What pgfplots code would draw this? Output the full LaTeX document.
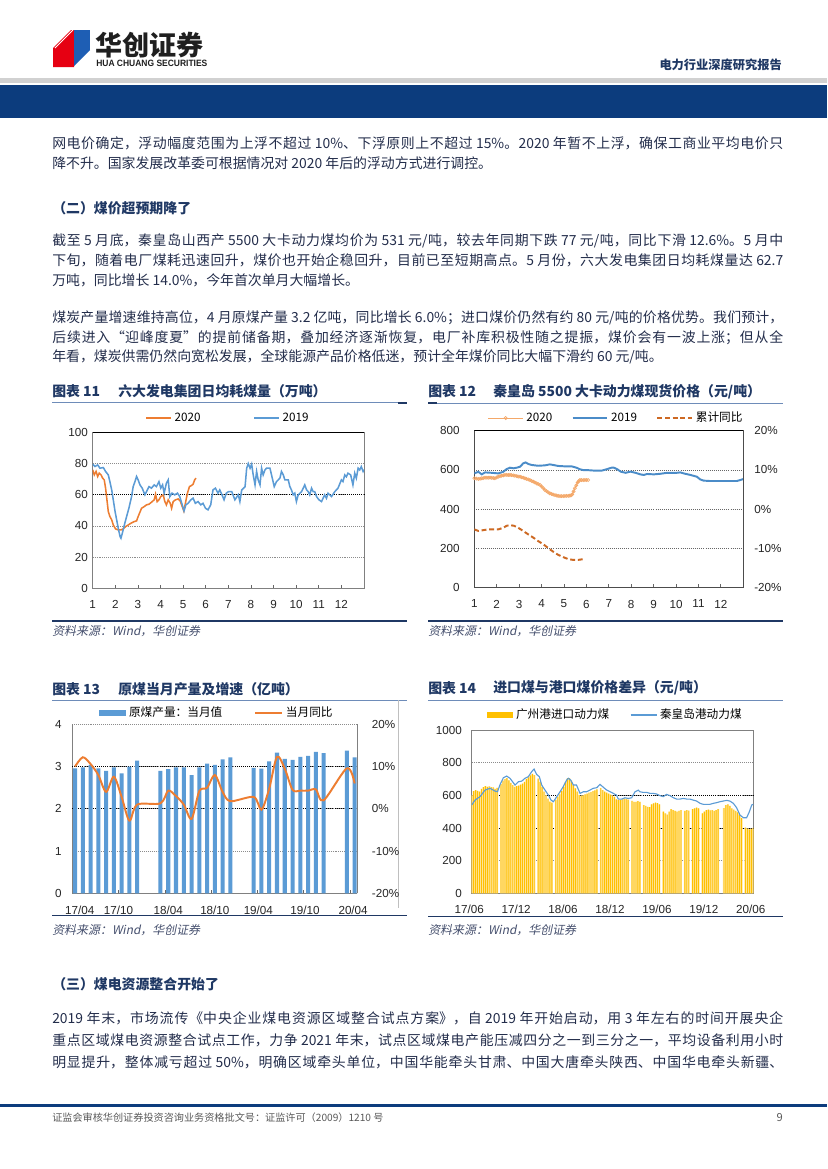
\documentclass[border=0pt]{standalone}
\usepackage{fontspec}
\usepackage{graphicx}
\usepackage{pgfplots}
\pgfplotsset{compat=1.18}
\usepackage{pgfplotstable}
\setmainfont{Noto Sans CJK SC}
\newfontfamily\chartfont{Liberation Sans}
\newfontfamily\srcfont[FakeSlant=0.2]{Noto Sans CJK SC}
\newfontfamily\latinb{Liberation Sans}
\XeTeXlinebreaklocale "zh"
\XeTeXlinebreakskip=0pt plus 1pt

\definecolor{navy}{RGB}{31,56,100}
\definecolor{band}{RGB}{12,60,125}
\definecolor{bodyc}{RGB}{35,45,75}
\definecolor{srcc}{RGB}{70,80,110}
\definecolor{sblue}{RGB}{91,155,213}
\definecolor{mblue}{RGB}{75,140,200}
\definecolor{sorange}{RGB}{237,125,49}
\definecolor{lorange}{RGB}{244,168,105}
\definecolor{dorange}{RGB}{205,105,35}
\definecolor{ylw}{RGB}{255,192,0}
\definecolor{pylw}{RGB}{255,228,150}
\definecolor{tline}{RGB}{110,140,185}
\definecolor{logored}{RGB}{230,0,18}
\definecolor{logoblue}{RGB}{30,94,180}

\newcommand\jline[1]{\parbox{526.3pt}{\parindent=0pt\parfillskip=0pt\spaceskip=0.22em plus 0.05em\relax #1}}

\pgfplotstableread{
m v
0 600
0.25 625
0.5 632
0.75 628
1 622
1.25 640
1.5 650
1.75 656
2 652
2.25 655
2.5 650
2.75 648
3 640
3.25 645
3.75 668
4 690
4.25 700
4.5 706
4.75 692
5 676
5.25 662
5.5 652
5.75 656
6 660
6.25 666
6.5 672
6.75 682
7 700
7.25 710
7.5 722
7.75 732
8 724
8.5 702
8.75 682
9 652
9.25 622
9.5 600
9.75 580
10 562
10.25 556
10.75 572
11 590
11.25 606
11.5 626
11.75 652
12 682
12.25 706
12.5 706
12.75 690
13 662
13.25 642
13.5 622
13.75 602
14 596
14.25 600
14.5 606
14.75 610
15 616
15.25 620
15.5 626
15.75 630
16 636
16.5 644
16.75 632
17 622
17.25 616
17.5 610
17.75 604
18 598
18.25 590
18.5 576
18.75 570
19 572
19.25 576
19.5 580
19.75 578
20 574
20.5 566
20.75 560
21 560
21.25 565
21.5 560
22 540
22.25 535
22.5 530
22.75 528
23 545
23.25 550
23.5 556
23.75 552
24 545
24.5 500
24.75 490
25 482
25.25 500
25.5 515
25.75 510
26 505
26.25 500
26.5 505
26.75 510
27.25 505
27.5 510
27.75 506
28.25 515
28.5 520
28.75 525
29 520
29.5 490
29.75 500
30 510
30.25 512
30.5 508
30.75 510
31 505
31.25 510
31.5 515
32.25 522
32.5 540
32.75 545
33 536
33.25 520
33.5 512
33.75 505
34 495
34.25 480
34.5 460
35 402
35.25 396
35.5 392
35.75 395
36 400
}\yellowdata

\pgfplotsset{
  every axis/.append style={
    scale only axis,
    /pgf/number format/assume math mode=true,
    /pgf/number format/set thousands separator={},
    tick label style={font=\fontsize{8.4}{9}\selectfont\chartfont, text=black!85},
    legend style={font=\fontsize{8.4}{9}\selectfont, draw=none, fill=none},
    axis line style={draw=black!50, line width=0.6pt},
    x axis line style={-}, y axis line style={-},
    tick align=inside,
    major tick length=2.4pt,
    ytick style={draw=none},
    xtick style={draw=black!60, line width=0.6pt},
    grid style={densely dotted, black!45, line width=0.5pt},
  },
  lline/.style={legend image code/.code={\draw[##1] (0pt,0pt) -- (#1,0pt);}},
  lmark/.style={legend image code/.code={\draw[##1, mark repeat=2, mark phase=2] plot coordinates {(0pt,0pt) (12.5pt,0pt) (25pt,0pt)};}},
  lbar/.style 2 args={legend image code/.code={\fill[#1] (0pt,-2.2pt) rectangle (#2,2.2pt);}},
}

\tikzset{body/.style={anchor=west, inner sep=0pt, font=\fontsize{10}{12}\selectfont, text=bodyc}}

\begin{document}
\begin{tikzpicture}
\begin{scope}[x=0.72pt,y=-0.72pt]
\fill[white] (0,0) rectangle (827,1169);
\path[use as bounding box] (0,0) rectangle (827,1169);
% ---------- header ----------
\fill[logored] (53,48) -- (71,30) -- (74,30) -- (74,67) -- (53,67) -- cycle;
\fill[logoblue] (74,30) rectangle (90,50);
\fill[logoblue] (74,50) -- (90,50) -- (74,66) -- cycle;
\draw[white, line width=0.6pt] (53,40) -- (63,30);
\draw[white, line width=0.6pt] (53,45) -- (68,30);
\draw[white, line width=0.6pt] (55,48) -- (73,30);
\draw[white, line width=0.6pt] (90,52) -- (75,67);
\draw[white, line width=0.6pt] (90,57) -- (80,67);
\draw[white, line width=0.6pt] (90,62) -- (85,67);
\node[anchor=west, inner sep=0pt, font=\fontsize{19.5}{20}\selectfont\bfseries, text=black!88] at (95,45) {华创证券};
\node[anchor=west, inner sep=0pt, text=black!88] at (96,63.3) {\resizebox{80pt}{4.6pt}{\latinb\bfseries HUA CHUANG SECURITIES}};
\node[anchor=east, inner sep=0pt, font=\fontsize{8.8}{10}\selectfont\bfseries, text=navy] at (782,65) {电力行业深度研究报告};
\fill[black!18] (0,78.3) rectangle (827,82.5);
\fill[band] (0,85) rectangle (827,118.3);
% ---------- body text ----------
\node[body] at (52,143.5) {\jline{网电价确定，浮动幅度范围为上浮不超过 10\%、下浮原则上不超过 15\%。2020 年暂不上浮，确保工商业平均电价只}};
\node[body] at (52,163.5) {降不升。国家发展改革委可根据情况对 2020 年后的浮动方式进行调控。};
\node[body, font=\fontsize{10}{12}\selectfont\bfseries, text=navy] at (52,208.5) {（二）煤价超预期降了};
\node[body] at (52,241) {\jline{截至 5 月底，秦皇岛山西产 5500 大卡动力煤均价为 531 元/吨，较去年同期下跌 77 元/吨，同比下滑 12.6\%。5 月中}};
\node[body] at (52,260.5) {\jline{下旬，随着电厂煤耗迅速回升，煤价也开始企稳回升，目前已至短期高点。5 月份，六大发电集团日均耗煤量达 62.7}};
\node[body] at (52,280) {万吨，同比增长 14.0\%，今年首次单月大幅增长。};
\node[body] at (52,318) {\jline{煤炭产量增速维持高位，4 月原煤产量 3.2 亿吨，同比增长 6.0\%；进口煤价仍然有约 80 元/吨的价格优势。我们预计，}};
\node[body] at (52,337.5) {\jline{后续进入“迎峰度夏”的提前储备期，叠加经济逐渐恢复，电厂补库积极性随之提振，煤价会有一波上涨；但从全}};
\node[body] at (52,357) {年看，煤炭供需仍然向宽松发展，全球能源产品价格低迷，预计全年煤价同比大幅下滑约 60 元/吨。};
% ---------- chart titles / rules ----------
\node[body, font=\fontsize{10}{12}\selectfont\bfseries, text=navy] at (52,391.5) {图表 11};
\node[body, font=\fontsize{10}{12}\selectfont\bfseries, text=navy] at (118,391.5) {六大发电集团日均耗煤量（万吨）};
\node[body, font=\fontsize{10}{12}\selectfont\bfseries, text=navy] at (428,391.5) {图表 12};
\node[body, font=\fontsize{10}{12}\selectfont\bfseries, text=navy] at (493,391.5) {秦皇岛 5500 大卡动力煤现货价格（元/吨）};
\draw[tline, line width=0.5pt] (52,402.7) -- (407,402.7);
\draw[navy, line width=1.2pt] (398,402.7) -- (407,402.7);
\draw[tline, line width=0.5pt] (428,403.3) -- (783,403.3);
\draw[navy, line width=1.4pt] (428,403.3) -- (437,403.3);
\draw[navy, line width=1.2pt] (52,621) -- (407,621);
\draw[navy, line width=1.2pt] (428,621) -- (783,621);
\node[body, font=\fontsize{8.6}{10}\selectfont\srcfont, text=srcc] at (52,631.5) {资料来源：Wind，华创证券};
\node[body, font=\fontsize{8.6}{10}\selectfont\srcfont, text=srcc] at (428,631.5) {资料来源：Wind，华创证券};
\node[body, font=\fontsize{10}{12}\selectfont\bfseries, text=navy] at (52,689) {图表 13};
\node[body, font=\fontsize{10}{12}\selectfont\bfseries, text=navy] at (118,689) {原煤当月产量及增速（亿吨）};
\node[body, font=\fontsize{10}{12}\selectfont\bfseries, text=navy] at (428,688) {图表 14};
\node[body, font=\fontsize{10}{12}\selectfont\bfseries, text=navy] at (493,688) {进口煤与港口煤价格差异（元/吨）};
\draw[tline, line width=0.5pt] (52,700) -- (407,700);
\draw[tline, line width=0.5pt] (428,700) -- (783,700);
\draw[black!25, line width=0.4pt] (398,700) -- (398,908);
\draw[navy, line width=1.2pt] (52,915.5) -- (407,915.5);
\draw[navy, line width=1.2pt] (428,916.5) -- (783,916.5);
\node[body, font=\fontsize{8.6}{10}\selectfont\srcfont, text=srcc] at (52,930) {资料来源：Wind，华创证券};
\node[body, font=\fontsize{8.6}{10}\selectfont\srcfont, text=srcc] at (428,930) {资料来源：Wind，华创证券};
% ---------- section 3 ----------
\node[body, font=\fontsize{10}{12}\selectfont\bfseries, text=navy] at (52,984) {（三）煤电资源整合开始了};
\node[body] at (52,1018.5) {\jline{2019 年末，市场流传《中央企业煤电资源区域整合试点方案》，自 2019 年开始启动，用 3 年左右的时间开展央企}};
\node[body] at (52,1040.5) {\jline{重点区域煤电资源整合试点工作，力争 2021 年末，试点区域煤电产能压减四分之一到三分之一，平均设备利用小时}};
\node[body] at (52,1062.5) {\jline{明显提升，整体减亏超过 50\%，明确区域牵头单位，中国华能牵头甘肃、中国大唐牵头陕西、中国华电牵头新疆、}};
% ---------- footer ----------
\fill[band] (0,1103.8) rectangle (827,1106.6);
\node[body, font=\fontsize{7.3}{9}\selectfont, text=black!65] at (52,1118) {证监会审核华创证券投资咨询业务资格批文号：证监许可（2009）1210 号};
\node[anchor=east, inner sep=0pt, font=\fontsize{8}{9}\selectfont, text=black!65] at (783,1118) {9};
\end{scope}

% ================= Chart 11 =================
\begin{axis}[
  at={(66.744pt,-423.576pt)}, anchor=south west,
  width=195.336pt, height=112.32pt,
  xmin=1, xmax=13, ymin=0, ymax=100,
  xtick={1,...,12}, ytick={0,20,...,100},
  xtick pos=bottom, ytick pos=left,
  ymajorgrids,
  extra y ticks={60}, extra y tick labels={},
  extra y tick style={major grid style={densely dotted, black, line width=0.6pt}},
  xticklabel style={yshift=-5pt},
  legend style={at={(0.5,1.092)}, anchor=center, legend columns=2,
    /tikz/every even column/.append style={column sep=36pt}},
]
\addplot[sorange, line width=1.1pt, lline=18pt] coordinates {
(1.00,75.9)(1.07,72.7)(1.15,74.9)(1.22,71.7)(1.29,73.8)(1.37,72.7)(1.44,70.6)(1.51,69.5)(1.57,64.2)(1.63,56.7)(1.69,49.2)(1.76,46.0)(1.84,43.9)(1.91,40.6)(2.01,38.1)(2.13,37.4)(2.25,37.4)(2.35,38.1)(2.46,39.6)(2.57,40.6)(2.69,41.7)(2.84,42.8)(2.94,43.2)(3.01,46.0)(3.09,48.8)(3.16,51.3)(3.28,52.4)(3.38,53.5)(3.49,53.9)(3.60,55.2)(3.72,56.7)(3.78,60.3)(3.85,55.6)(3.93,56.7)(4.01,58.8)(4.12,59.9)(4.19,55.6)(4.26,53.5)(4.34,56.7)(4.43,54.5)(4.49,51.3)(4.56,55.6)(4.66,56.7)(4.78,57.3)(4.87,56.0)(4.96,52.4)(5.03,49.6)(5.10,54.5)(5.19,61.0)(5.28,65.2)(5.37,65.9)(5.44,66.7)(5.51,69.5)(5.57,70.6)
};
\addlegendentry{2020}
\addplot[sblue, line width=1.1pt, lline=18pt] coordinates {
(1.00,79.6)(1.10,78.1)(1.22,79.1)(1.32,77.0)(1.47,77.4)(1.57,74.9)(1.69,72.7)(1.76,68.4)(1.84,63.1)(1.91,56.7)(1.99,49.2)(2.06,43.9)(2.13,38.5)(2.21,33.2)(2.25,32.1)(2.31,35.3)(2.40,40.6)(2.50,46.0)(2.60,51.3)(2.72,58.8)(2.79,65.2)(2.87,68.4)(2.94,71.7)(3.01,69.5)(3.09,66.3)(3.19,64.2)(3.31,59.9)(3.38,62.0)(3.49,65.2)(3.60,64.2)(3.72,66.3)(3.82,65.2)(3.93,68.4)(4.01,64.2)(4.09,66.3)(4.16,61.0)(4.26,67.4)(4.34,69.5)(4.41,58.8)(4.51,61.0)(4.63,59.9)(4.75,61.0)(4.85,58.8)(4.96,53.5)(5.04,49.6)(5.12,53.5)(5.22,54.5)(5.34,56.7)(5.44,57.8)(5.54,54.5)(5.66,55.6)(5.78,53.5)(5.88,54.5)(5.99,51.3)(6.10,50.3)(6.22,53.5)(6.32,63.1)(6.43,64.2)(6.54,61.0)(6.62,63.1)(6.72,59.9)(6.81,56.7)(6.91,61.0)(7.01,62.0)(7.15,62.0)(7.29,56.7)(7.44,60.0)(7.51,55.6)(7.59,63.0)(7.74,65.2)(7.81,77.0)(7.88,80.0)(7.96,77.0)(8.03,79.6)(8.10,72.7)(8.18,66.3)(8.25,74.9)(8.32,69.5)(8.40,66.3)(8.47,77.0)(8.54,72.7)(8.62,75.9)(8.69,77.0)(8.84,77.0)(8.91,72.7)(9.03,65.2)(9.13,68.4)(9.28,70.6)(9.35,74.9)(9.43,72.7)(9.50,69.5)(9.65,69.5)(9.72,65.2)(9.79,63.1)(9.87,59.9)(9.94,61.0)(10.01,55.6)(10.09,59.9)(10.24,62.0)(10.38,66.3)(10.46,63.1)(10.53,62.0)(10.60,59.9)(10.68,64.2)(10.75,62.0)(10.82,62.0)(10.90,58.8)(11.01,56.7)(11.12,55.6)(11.19,57.7)(11.26,59.9)(11.34,57.7)(11.41,61.0)(11.56,58.8)(11.71,62.0)(11.85,64.2)(12.00,69.5)(12.07,68.4)(12.15,72.7)(12.22,71.5)(12.29,73.8)(12.41,72.7)(12.51,66.3)(12.59,73.8)(12.66,70.6)(12.74,77.0)(12.81,75.9)(12.88,78.0)(12.96,74.9)(13.00,76.0)
};
\addlegendentry{2019}
\draw[black, line width=0.8pt] (rel axis cs:0,1) -- (rel axis cs:1,1);
\end{axis}

% ================= Chart 12 =================
\begin{axis}[
  at={(341.496pt,-422.856pt)}, anchor=south west,
  width=193.68pt, height=112.752pt,
  xmin=1, xmax=13, ymin=0, ymax=800,
  xtick={1,...,12}, ytick={0,200,...,800},
  xtick pos=bottom, ytick pos=left,
  ymajorgrids, grid style={densely dotted, black!60, line width=0.5pt},
  axis line style={draw=black!70},
  yticklabel style={xshift=-7pt},
  xticklabel style={yshift=-5.5pt},
  legend style={at={(0.529,1.081)}, anchor=center, legend columns=3,
    /tikz/every even column/.append style={column sep=12pt}},
]
\addplot[lorange, line width=0.7pt, mark=o, mark size=1.1pt, mark options={fill=white, line width=0.5pt}, lmark] coordinates {
(1.00,557)(1.10,555)(1.18,553)(1.26,555)(1.33,557)(1.40,558)(1.48,560)(1.56,560)(1.63,560)(1.70,560)(1.78,559)(1.85,558)(1.92,557)(2.00,561)(2.07,565)(2.15,568)(2.22,570)(2.30,572)(2.37,574)(2.45,574)(2.52,574)(2.59,574)(2.66,573)(2.74,572)(2.81,570)(2.89,568)(2.96,566)(3.04,565)(3.11,562)(3.19,560)(3.26,557)(3.33,554)(3.41,551)(3.48,548)(3.55,544)(3.63,540)(3.70,536)(3.78,531)(3.85,527)(3.93,523)(4.00,515)(4.08,506)(4.15,497)(4.22,491)(4.30,485)(4.37,480)(4.45,477)(4.52,474)(4.60,471)(4.67,469)(4.74,467)(4.82,466)(4.89,466)(4.97,466)(5.04,466)(5.11,467)(5.19,467)(5.26,468)(5.32,470)(5.37,475)(5.43,490)(5.49,506)(5.55,521)(5.61,536)(5.66,543)(5.71,548)(5.78,548)(5.86,548)(5.93,548)(6.00,548)(6.08,548)
};
\addlegendentry{2020}
\addplot[mblue, line width=1.4pt, lline=25pt] coordinates {
(1.00,582)(1.18,590)(1.33,577)(1.48,587)(1.77,585)(2.07,582)(2.29,590)(2.44,604)(2.59,611)(2.74,608)(2.89,611)(3.04,616)(3.18,633)(3.29,638)(3.41,630)(3.56,625)(3.85,621)(4.15,623)(4.37,628)(4.52,625)(4.74,620)(5.04,618)(5.34,618)(5.56,611)(5.71,603)(5.86,599)(6.01,599)(6.38,596)(6.68,596)(6.90,603)(7.12,611)(7.23,611)(7.38,603)(7.53,591)(7.75,585)(7.97,591)(8.19,585)(8.41,577)(8.56,574)(8.71,579)(9.01,577)(9.30,580)(9.60,585)(10.04,585)(10.19,587)(10.34,582)(10.64,574)(10.93,565)(11.08,551)(11.23,545)(11.53,543)(11.97,543)(12.41,543)(12.71,543)(12.86,548)(13.00,553)
};
\addlegendentry{2019}
\addlegendimage{dorange, line width=1.4pt, dash pattern=on 3.5pt off 2pt, lline=25pt}
\addlegendentry{累计同比}
\draw[black, line width=0.8pt] (rel axis cs:0,1) -- (rel axis cs:1,1);
\end{axis}
\begin{axis}[
  at={(341.496pt,-422.856pt)}, anchor=south west,
  width=193.68pt, height=112.752pt,
  xmin=1, xmax=13, ymin=-20, ymax=20,
  axis y line*=right, axis x line=none,
  axis line style={draw=black!70},
  ytick={-20,-10,...,20},
  yticklabel={\pgfmathprintnumber{\tick}\%},
  yticklabel style={xshift=4.4pt},
]
\addplot[dorange, line width=1.4pt, dash pattern=on 3.5pt off 2pt] coordinates {
(1.00,-5.2)(1.18,-5.6)(1.40,-5.4)(1.62,-5.2)(1.85,-5.2)(2.07,-5.2)(2.29,-4.8)(2.44,-4.3)(2.59,-4.1)(2.78,-4.3)(2.96,-4.8)(3.18,-5.6)(3.41,-6.5)(3.63,-7.3)(3.85,-8.2)(4.08,-9.0)(4.30,-10.0)(4.52,-10.9)(4.74,-11.7)(4.97,-12.3)(5.19,-12.8)(5.41,-13.0)(5.64,-13.0)(5.86,-12.8)
};
\end{axis}

% ================= Chart 13 =================
\begin{axis}[
  at={(51.84pt,-643.176pt)}, anchor=south west,
  width=205.2pt, height=121.68pt,
  xmin=-0.39, xmax=36.3, ymin=0, ymax=4,
  axis x line*=bottom, axis y line*=left,
  ytick={0,...,4},
  xtick={0.6,5.6,12,18,23.6,29.6,35.8},
  xticklabels={17/04,17/10,18/04,18/10,19/04,19/10,20/04},
  xtick style={draw=none},
  ymajorgrids,
  extra y ticks={2,3}, extra y tick labels={},
  extra y tick style={major grid style={densely dotted, black, line width=0.6pt}},
  yticklabel style={xshift=-4pt},
  xticklabel style={yshift=-5.5pt},
  legend style={at={(0.51,1.069)}, anchor=center, legend columns=2,
    /tikz/every even column/.append style={column sep=21pt}},
]
\addplot[ybar, bar width=0.52, bar shift=0pt, fill=sblue, draw=none, lbar={sblue}{19.4pt}] coordinates {
(0,2.96)(1,2.98)(2,3.04)(3,2.96)(4,2.90)(5,2.98)(6,2.84)(7,3.00)(8,3.14)
(11,2.90)(12,2.94)(13,2.98)(14,2.98)(15,2.80)(16,2.98)(17,3.07)(18,3.04)(19,3.17)(20,3.22)
(23,2.97)(24,2.95)(25,3.12)(26,3.33)(27,3.18)(28,3.16)(29,3.23)(30,3.25)(31,3.35)(32,3.32)
(35,3.38)(36,3.22)
};
\addlegendentry{原煤产量：当月值}
\addlegendimage{sorange, line width=1.4pt, lline=19.4pt}
\addlegendentry{当月同比}
\draw[black!50, line width=0.6pt] (rel axis cs:1,0) -- (rel axis cs:1,1);
\draw[black!60, line width=0.6pt] (axis cs:5.6,0) -- ++(0pt,2.4pt);
\draw[black!60, line width=0.6pt] (axis cs:11.6,0) -- ++(0pt,2.4pt);
\draw[black!60, line width=0.6pt] (axis cs:17.5,0) -- ++(0pt,2.4pt);
\draw[black!60, line width=0.6pt] (axis cs:23.5,0) -- ++(0pt,2.4pt);
\draw[black!60, line width=0.6pt] (axis cs:29.4,0) -- ++(0pt,2.4pt);
\draw[black!60, line width=0.6pt] (axis cs:35.4,0) -- ++(0pt,2.4pt);
\end{axis}
\begin{axis}[
  at={(51.84pt,-643.176pt)}, anchor=south west,
  width=205.2pt, height=121.68pt,
  xmin=-0.39, xmax=36.3, ymin=-20, ymax=20,
  axis y line*=right, axis x line=none,
  ytick={-20,-10,...,20},
  yticklabel={\pgfmathprintnumber{\tick}\%},
  yticklabel style={xshift=7.2pt},
]
\addplot[sorange, line width=1.4pt, smooth] coordinates {
(0,10.0)(1,12.2)(2,10.6)(3,8.0)(4,4.0)(5,7.6)(6,2.8)(7,-2.8)(8,1.0)(11,1.3)(12,4.3)(13,3.0)(14,1.0)(15,-2.4)(16,4.2)(17,5.0)(18,8.0)(19,4.0)(20,1.8)(23,2.8)(24,-0.2)(25,4.8)(26,12.3)(27,9.5)(28,4.5)(29,4.3)(30,4.3)(31,4.6)(32,2.0)(35,9.6)(36,6.0)
};
\end{axis}

% ================= Chart 14 =================
\begin{axis}[
  at={(339.624pt,-643.176pt)}, anchor=south west,
  width=202.752pt, height=117.576pt,
  xmin=0, xmax=36, ymin=0, ymax=1000,
  xtick={0,6,...,36},
  xticklabels={17/06,17/12,18/06,18/12,19/06,19/12,20/06},
  xtick style={draw=none},
  ytick={0,200,...,1000},
  ymajorgrids,
  extra y ticks={400,600}, extra y tick labels={},
  extra y tick style={major grid style={densely dotted, black, line width=0.6pt}},
  yticklabel style={xshift=-3.5pt},
  xticklabel style={yshift=-4.8pt, xshift=-1.8pt},
  legend style={at={(0.512,1.092)}, anchor=center, legend columns=2,
    /tikz/every even column/.append style={column sep=13pt}},
]
\addplot[ybar, bar width=0.25, bar shift=0pt, fill=pylw, draw=none, forget plot] table[x=m,y=v] {\yellowdata};
\addplot[ybar, bar width=0.11, bar shift=0pt, fill=ylw, draw=none, lbar={ylw}{18.7pt}] table[x=m,y=v] {\yellowdata};
\addlegendentry{广州港进口动力煤}
\addplot[sblue, line width=0.8pt, lline=18.7pt] coordinates {
(0,541)(0.43,571)(1.07,592)(1.7,632)(2.34,643)(2.98,626)(3.3,622)(3.6,663)(4.05,708)(4.47,718)(4.9,704)(5.54,663)(5.97,683)(6.4,687)(6.8,704)(7.24,714)(7.67,745)(7.97,761)(8.3,728)(8.65,714)(8.95,663)(9.37,632)(9.8,602)(10.14,571)(10.44,561)(10.78,585)(11.3,622)(11.7,653)(12.14,694)(12.36,704)(12.65,694)(13.0,663)(13.4,663)(13.85,612)(14.27,622)(14.7,622)(15.1,632)(15.55,643)(16.0,647)(16.4,667)(16.74,653)(17.26,632)(17.7,622)(18.1,612)(18.5,602)(18.75,577)(19.17,577)(19.6,585)(20.0,581)(20.45,585)(20.88,622)(21.3,632)(21.5,622)(21.9,618)(22.37,618)(22.8,612)(23.2,612)(23.65,608)(24.07,598)(24.5,592)(24.9,606)(25.35,598)(25.8,585)(26.2,577)(26.6,577)(27.06,581)(27.5,577)(27.9,577)(28.3,571)(28.76,565)(29.2,551)(29.6,545)(30.0,545)(30.46,545)(30.9,551)(31.3,555)(31.74,561)(32.17,565)(32.6,569)(33.0,565)(33.45,551)(33.87,524)(34.3,479)(34.73,463)(35.15,463)(35.5,500)(35.8,541)(36,545)
};
\addlegendentry{秦皇岛港动力煤}
\end{axis}
\end{tikzpicture}
\end{document}
